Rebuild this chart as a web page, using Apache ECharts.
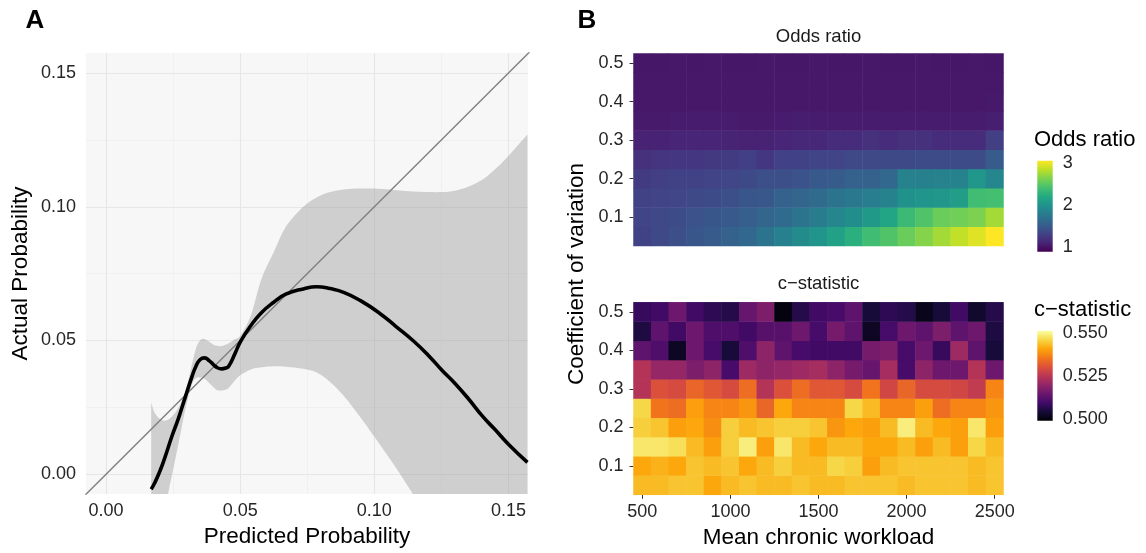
<!DOCTYPE html>
<html><head><meta charset="utf-8">
<script src="https://cdn.jsdelivr.net/npm/echarts@6/dist/echarts.min.js"></script>
<style>html,body{margin:0;padding:0;background:#fff}#c{width:1146px;height:553px}</style>
</head><body><div id="c"></div>
<script>
// ---------- Panel A: calibration ----------
const calX =     [0.0168,0.018,0.020,0.022,0.0245,0.027,0.0296,0.032,0.0335,0.035,0.0367,0.0385,0.040,0.0415,0.0431,0.0445,0.0457,0.048,0.0502,0.054,0.0579,0.0625,0.067,0.0735,0.0785,0.0835,0.0888,0.095,0.1017,0.108,0.1146,0.120,0.1253,0.130,0.135,0.1404,0.145,0.150,0.1571];
const calFit =   [-0.0056,-0.0035,0.0010,0.0065,0.0141,0.0210,0.0291,0.0365,0.0404,0.0428,0.0435,0.0424,0.0410,0.0398,0.0394,0.0397,0.0404,0.0450,0.0498,0.0556,0.0604,0.0643,0.0673,0.0693,0.0701,0.0694,0.0679,0.0648,0.0604,0.0553,0.0498,0.0446,0.0388,0.0340,0.0283,0.0216,0.0167,0.0112,0.0044];
const calUpper = [0.0269,0.0232,0.0207,0.0200,0.0215,0.0250,0.0310,0.0410,0.0470,0.0500,0.0506,0.0495,0.0484,0.0480,0.0479,0.0484,0.0490,0.0505,0.0520,0.0594,0.0730,0.0830,0.0925,0.1000,0.1035,0.1055,0.1065,0.1068,0.1067,0.1062,0.1057,0.1055,0.1055,0.1060,0.1075,0.1102,0.1140,0.1190,0.1270];
const calLower = [-0.038,-0.032,-0.0225,-0.0127,-0.0006,0.0115,0.0245,0.0335,0.0360,0.0362,0.0357,0.0340,0.0325,0.0314,0.0313,0.0316,0.0322,0.0350,0.0372,0.0392,0.0400,0.0404,0.0402,0.0394,0.0380,0.0345,0.0291,0.0210,0.0116,0.0025,-0.0078,-0.017,-0.027,-0.036,-0.046,-0.057,-0.067,-0.078,-0.093];
const refLine = [[-0.02,-0.02],[0.17,0.17]];
const probRangeX = [-0.0075, 0.1573];
const probRangeY = [-0.0074, 0.1575];

// ---------- Panel B: heatmaps ----------
const workloadCats = ['500','600','700','800','900','1000','1100','1200','1300','1400','1500','1600','1700','1800','1900','2000','2100','2200','2300','2400','2500'];
const workloadTickLabels = ['500','1000','1500','2000','2500'];
const cvCats = ['0.05','0.1','0.15','0.2','0.25','0.3','0.35','0.4','0.45','0.5'];
const cvTickLabels = ['0.1','0.2','0.3','0.4','0.5'];

// odds ratio, one array per coefficient-of-variation row (bottom to top)
const or005 = [1.30,1.35,1.40,1.45,1.50,1.55,1.60,1.70,1.82,1.92,2.00,2.12,2.25,2.38,2.45,2.55,2.65,2.75,2.85,2.95,3.05];
const or010 = [1.32,1.35,1.38,1.42,1.45,1.48,1.52,1.58,1.62,1.70,1.78,1.88,1.95,2.05,2.15,2.35,2.45,2.55,2.58,2.62,2.75];
const or015 = [1.30,1.32,1.33,1.36,1.38,1.40,1.45,1.47,1.55,1.58,1.62,1.70,1.75,1.80,1.85,1.98,2.00,2.02,2.08,2.38,2.40];
const or020 = [1.25,1.28,1.30,1.30,1.32,1.33,1.36,1.40,1.40,1.42,1.48,1.50,1.55,1.55,1.60,1.85,1.82,1.85,1.85,2.02,1.88];
const or025 = [1.18,1.20,1.22,1.22,1.24,1.25,1.28,1.22,1.30,1.30,1.32,1.32,1.35,1.35,1.36,1.36,1.38,1.38,1.38,1.38,1.50];
const or030 = [1.08,1.08,1.10,1.10,1.10,1.09,1.08,1.08,1.10,1.12,1.12,1.15,1.15,1.18,1.15,1.18,1.18,1.15,1.15,1.15,1.28];
const or035 = [1.03,1.03,1.04,1.045,1.045,1.04,1.03,1.03,1.04,1.05,1.045,1.04,1.04,1.045,1.04,1.045,1.045,1.04,1.04,1.045,1.06];
const or040 = [1.02,1.02,1.02,1.022,1.02,1.02,1.02,1.02,1.02,1.022,1.02,1.02,1.02,1.02,1.022,1.02,1.02,1.02,1.02,1.022,1.025];
const or045 = [1.017,1.018,1.017,1.018,1.017,1.017,1.018,1.017,1.018,1.017,1.017,1.018,1.017,1.018,1.017,1.017,1.018,1.017,1.018,1.017,1.018];
const or050 = [1.016,1.016,1.017,1.016,1.017,1.016,1.016,1.017,1.016,1.016,1.017,1.016,1.016,1.017,1.016,1.016,1.017,1.016,1.016,1.017,1.016];
const oddsRows = [or005,or010,or015,or020,or025,or030,or035,or040,or045,or050];

// c-statistic rows (bottom to top)
const cs005 = [0.543,0.543,0.544,0.544,0.541,0.543,0.544,0.543,0.543,0.544,0.543,0.543,0.544,0.544,0.544,0.543,0.544,0.544,0.544,0.543,0.544];
const cs010 = [0.541,0.542,0.541,0.544,0.543,0.544,0.541,0.543,0.545,0.543,0.543,0.546,0.545,0.540,0.543,0.544,0.544,0.544,0.544,0.543,0.544];
const cs015 = [0.548,0.548,0.547,0.543,0.540,0.545,0.549,0.540,0.548,0.543,0.541,0.543,0.543,0.541,0.541,0.543,0.540,0.543,0.540,0.546,0.543];
const cs020 = [0.545,0.544,0.540,0.541,0.538,0.545,0.543,0.544,0.545,0.545,0.544,0.539,0.541,0.540,0.543,0.549,0.543,0.541,0.540,0.548,0.540];
const cs025 = [0.546,0.535,0.534,0.540,0.537,0.537,0.539,0.533,0.541,0.537,0.537,0.537,0.546,0.543,0.537,0.537,0.540,0.534,0.537,0.537,0.539];
const cs030 = [0.524,0.530,0.529,0.533,0.531,0.529,0.534,0.524,0.530,0.534,0.531,0.531,0.529,0.535,0.528,0.533,0.529,0.529,0.528,0.526,0.537];
const cs035 = [0.524,0.520,0.520,0.517,0.519,0.510,0.521,0.519,0.520,0.521,0.522,0.519,0.516,0.514,0.522,0.510,0.519,0.515,0.515,0.524,0.515];
const cs040 = [0.513,0.511,0.502,0.515,0.510,0.504,0.511,0.519,0.513,0.510,0.509,0.509,0.509,0.516,0.517,0.510,0.515,0.508,0.521,0.513,0.504];
const cs045 = [0.505,0.513,0.509,0.515,0.511,0.511,0.509,0.512,0.512,0.515,0.510,0.516,0.513,0.502,0.510,0.515,0.513,0.517,0.513,0.515,0.505];
const cs050 = [0.508,0.509,0.515,0.509,0.507,0.506,0.514,0.517,0.500,0.506,0.509,0.510,0.513,0.504,0.507,0.506,0.501,0.504,0.509,0.503,0.506];
const cstatRows = [cs005,cs010,cs015,cs020,cs025,cs030,cs035,cs040,cs045,cs050];

const oddsRange = [0.881, 3.048];
const cstatRange = [0.4988, 0.5512];
const oddsLegendTicks = [1, 2, 3];
const cstatLegendTicks = [0.500, 0.525, 0.550];

const viridis = ['#440154','#482576','#414487','#35608D','#2A788E','#21908C','#22A884','#43BF71','#7AD151','#BBDF27','#FDE725'];
const inferno = ['#000004','#160B39','#420A68','#6A176E','#932667','#BC3754','#DD513A','#F37819','#FCA50A','#F6D746','#FCFFA4'];

// ---------- build ----------
const FF = "'Liberation Sans', Arial, Helvetica, sans-serif";
const tickTxt = {color:'#262626', fontSize:18, fontFamily:FF};
const titleTxt = {color:'#000', fontSize:22.5, fontFamily:FF};

function toCells(rows){
  const out=[];
  rows.forEach((row,yi)=>row.forEach((v,xi)=>out.push([xi,yi,v])));
  return out;
}
function smoothSeg(pts){
  let d='';
  for(let i=0;i<pts.length-1;i++){
    const p0=pts[i-1]||pts[i], p1=pts[i], p2=pts[i+1], p3=pts[i+2]||pts[i+1];
    const c1=[p1[0]+(p2[0]-p0[0])/6, p1[1]+(p2[1]-p0[1])/6];
    const c2=[p2[0]-(p3[0]-p1[0])/6, p2[1]-(p3[1]-p1[1])/6];
    d+=' C'+c1[0]+','+c1[1]+' '+c2[0]+','+c2[1]+' '+p2[0]+','+p2[1];
  }
  return d;
}
function gradStops(cols){
  return cols.map((c,i)=>({offset:i/(cols.length-1), color:c}));
}
function colorbar(gridIdx, range, cols){
  return {
    type:'custom', xAxisIndex:gridIdx, yAxisIndex:gridIdx, silent:true, z:1,
    data:[[0,1,range[0],range[1]]],
    renderItem:(params, api)=>{
      const a=api.coord([api.value(0), api.value(2)]);
      const b=api.coord([api.value(1), api.value(3)]);
      return {type:'rect', shape:{x:a[0], y:b[1], width:b[0]-a[0], height:a[1]-b[1]},
        style:{fill:new echarts.graphic.LinearGradient(0,1,0,0,gradStops(cols))}};
    }
  };
}
const showWork = (i,v)=>workloadTickLabels.includes(v);
const showCv = (i,v)=>cvTickLabels.includes(v);

const chart = echarts.init(document.getElementById('c'), null, {renderer:'canvas'});
const option = {
  backgroundColor:'#ffffff',
  animation:false,
  textStyle:{fontFamily:FF},
  grid:[
    {left:86, top:53, width:442, height:441, show:true, backgroundColor:'#f7f7f7', borderWidth:0, outerBoundsMode:'none'},
    {left:633.5, top:53.5, width:370, height:192.5, outerBoundsMode:'none'},
    {left:633.5, top:302.3, width:370, height:192.5, outerBoundsMode:'none'},
    {left:1037.3, top:160.7, width:15.4, height:91, outerBoundsMode:'none'},
    {left:1037.3, top:330.7, width:15.4, height:90, outerBoundsMode:'none'}
  ],
  xAxis:[
    {gridIndex:0, type:'value', min:probRangeX[0], max:probRangeX[1], minInterval:0.05, maxInterval:0.05,
     axisLine:{show:false}, axisTick:{show:false},
     axisLabel:Object.assign({formatter:v=>v.toFixed(2), showMinLabel:false, showMaxLabel:false, margin:8}, tickTxt),
     splitLine:{show:true, showMinLine:false, showMaxLine:false, lineStyle:{color:'#e6e6e6', width:1.1}},
     minorTick:{show:false, splitNumber:2}, minorSplitLine:{show:true, lineStyle:{color:'#eeeeee', width:0.8}},
     name:'Predicted Probability', nameLocation:'middle', nameGap:31, nameTextStyle:titleTxt},
    {gridIndex:1, type:'category', data:workloadCats, show:false},
    {gridIndex:2, type:'category', data:workloadCats,
     axisLine:{show:false},
     axisTick:{show:true, alignWithLabel:true, interval:showWork, length:4, lineStyle:{color:'#333', width:1}},
     axisLabel:Object.assign({interval:showWork, margin:8}, tickTxt),
     splitLine:{show:false},
     name:'Mean chronic workload', nameLocation:'middle', nameGap:31, nameTextStyle:titleTxt},
    {gridIndex:3, type:'value', min:0, max:1, show:false},
    {gridIndex:4, type:'value', min:0, max:1, show:false}
  ],
  yAxis:[
    {gridIndex:0, type:'value', min:probRangeY[0], max:probRangeY[1], minInterval:0.05, maxInterval:0.05,
     axisLine:{show:false}, axisTick:{show:false},
     axisLabel:Object.assign({formatter:v=>v.toFixed(2), showMinLabel:false, showMaxLabel:false, margin:10}, tickTxt),
     splitLine:{show:true, showMinLine:false, showMaxLine:false, lineStyle:{color:'#e6e6e6', width:1.1}},
     minorTick:{show:false, splitNumber:2}, minorSplitLine:{show:true, lineStyle:{color:'#eeeeee', width:0.8}},
     name:'Actual Probability', nameLocation:'middle', nameGap:54, nameTextStyle:titleTxt},
    {gridIndex:1, type:'category', data:cvCats,
     axisLine:{show:false},
     axisTick:{show:true, alignWithLabel:true, interval:showCv, length:4, lineStyle:{color:'#333', width:1}},
     axisLabel:Object.assign({interval:showCv, margin:10}, tickTxt), splitLine:{show:false}},
    {gridIndex:2, type:'category', data:cvCats,
     axisLine:{show:false},
     axisTick:{show:true, alignWithLabel:true, interval:showCv, length:4, lineStyle:{color:'#333', width:1}},
     axisLabel:Object.assign({interval:showCv, margin:10}, tickTxt), splitLine:{show:false}},
    {gridIndex:3, type:'value', min:oddsRange[0], max:oddsRange[1], position:'right',
     axisLine:{show:false}, splitLine:{show:false},
     axisTick:{show:true, inside:true, length:3, customValues:oddsLegendTicks, lineStyle:{color:'#ffffff', width:1}},
     axisLabel:Object.assign({customValues:oddsLegendTicks, formatter:v=>String(v), margin:10}, tickTxt)},
    {gridIndex:4, type:'value', min:cstatRange[0], max:cstatRange[1], position:'right',
     axisLine:{show:false}, splitLine:{show:false},
     axisTick:{show:true, inside:true, length:3, customValues:cstatLegendTicks, lineStyle:{color:'#ffffff', width:1}},
     axisLabel:Object.assign({customValues:cstatLegendTicks, formatter:v=>v.toFixed(3), margin:10}, tickTxt)},
    {gridIndex:3, type:'value', min:oddsRange[0], max:oddsRange[1], position:'left',
     axisLine:{show:false}, splitLine:{show:false}, axisLabel:{show:false},
     axisTick:{show:true, inside:true, length:3, customValues:oddsLegendTicks, lineStyle:{color:'#ffffff', width:1}}},
    {gridIndex:4, type:'value', min:cstatRange[0], max:cstatRange[1], position:'left',
     axisLine:{show:false}, splitLine:{show:false}, axisLabel:{show:false},
     axisTick:{show:true, inside:true, length:3, customValues:cstatLegendTicks, lineStyle:{color:'#ffffff', width:1}}}
  ],
  visualMap:[
    {type:'continuous', show:false, seriesIndex:3, min:oddsRange[0], max:oddsRange[1], inRange:{color:viridis}},
    {type:'continuous', show:false, seriesIndex:4, min:cstatRange[0], max:cstatRange[1], inRange:{color:inferno}}
  ],
  series:[
    // 0: confidence band
    {type:'custom', xAxisIndex:0, yAxisIndex:0, clip:true, silent:true, z:1,
     data:[[calX[0], calUpper[0]]],
     renderItem:(params, api)=>{
       const top = calX.map((x,i)=>api.coord([x, calUpper[i]]));
       const bot = calX.map((x,i)=>api.coord([x, calLower[i]])).reverse();
       const d = 'M'+top[0][0]+','+top[0][1]+smoothSeg(top)+' L'+bot[0][0]+','+bot[0][1]+smoothSeg(bot)+' Z';
       return {type:'path', shape:{pathData:d}, style:{fill:'rgba(153,153,153,0.42)'}};
     }},
    // 1: reference diagonal
    {type:'line', xAxisIndex:0, yAxisIndex:0, data:refLine, symbol:'none', silent:true, z:2,
     lineStyle:{color:'#7f7f7f', width:1.4}},
    // 2: calibration fit
    {type:'line', xAxisIndex:0, yAxisIndex:0, data:calX.map((x,i)=>[x, calFit[i]]), symbol:'none', smooth:0.5, silent:true, z:3,
     lineStyle:{color:'#000000', width:3.6, cap:'butt'}},
    // 3: odds ratio heatmap
    {type:'heatmap', xAxisIndex:1, yAxisIndex:1, data:toCells(oddsRows), emphasis:{disabled:true}, itemStyle:{borderWidth:0}, progressive:0},
    // 4: c-statistic heatmap
    {type:'heatmap', xAxisIndex:2, yAxisIndex:2, data:toCells(cstatRows), emphasis:{disabled:true}, itemStyle:{borderWidth:0}, progressive:0},
    // 5,6: colour bars
    colorbar(3, oddsRange, viridis),
    colorbar(4, cstatRange, inferno)
  ],
  graphic:[
    {type:'text', x:35, y:21, style:{text:'A', font:"bold 26px "+FF, fill:'#000', textAlign:'center', textVerticalAlign:'middle'}},
    {type:'text', x:587, y:21, style:{text:'B', font:"bold 26px "+FF, fill:'#000', textAlign:'center', textVerticalAlign:'middle'}},
    {type:'text', x:818.5, y:37, style:{text:'Odds ratio', font:"18.5px "+FF, fill:'#1a1a1a', textAlign:'center', textVerticalAlign:'middle'}},
    {type:'text', x:818.5, y:284, style:{text:'c\u2212statistic', font:"18.5px "+FF, fill:'#1a1a1a', textAlign:'center', textVerticalAlign:'middle'}},
    {type:'text', x:1034, y:140, style:{text:'Odds ratio', font:"22px "+FF, fill:'#000', textAlign:'left', textVerticalAlign:'middle'}},
    {type:'text', x:1034, y:310, style:{text:'c\u2212statistic', font:"22px "+FF, fill:'#000', textAlign:'left', textVerticalAlign:'middle'}},
    {type:'text', x:577, y:274, rotation:Math.PI/2, style:{text:'Coefficient of variation', font:"22.5px "+FF, fill:'#000', textAlign:'center', textVerticalAlign:'middle'}}
  ]
};
chart.setOption(option);
</script>
</body></html>
